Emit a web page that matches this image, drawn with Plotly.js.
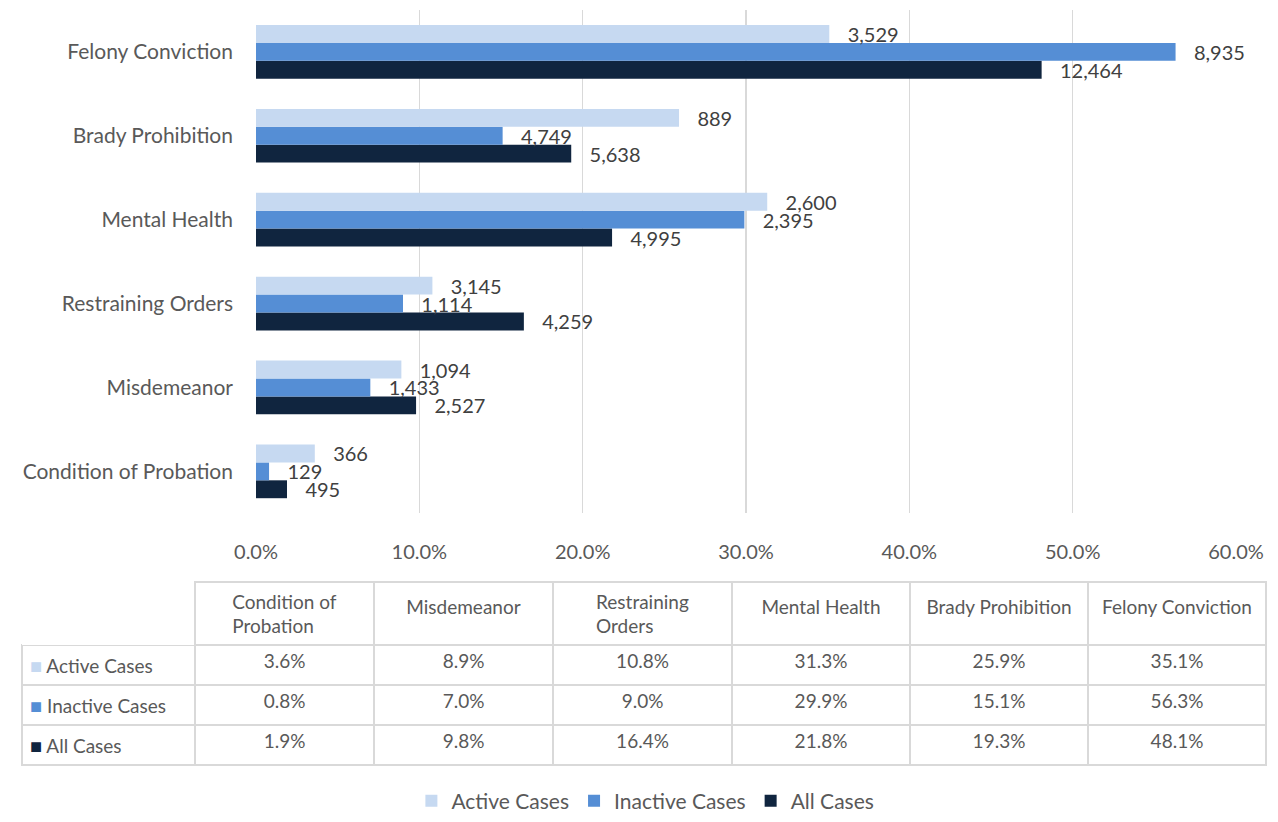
<!DOCTYPE html>
<html>
<head>
<meta charset="utf-8">
<script src="https://cdn.plot.ly/plotly-3.0.1.min.js"></script>
<style>html,body{margin:0;padding:0;background:#fff;}#chart{width:1278px;height:822px;}</style>
</head>
<body>
<div id="chart"></div>
<script>
const categories = ['Condition of Probation','Misdemeanor','Restraining Orders','Mental Health','Brady Prohibition','Felony Conviction'];
const tableHeaders = ['Condition of<br>Probation','<br>Misdemeanor','Restraining<br>Orders','<br>Mental Health','<br>Brady Prohibition','<br>Felony Conviction'];
const seriesNames = ['Active Cases','Inactive Cases','All Cases'];
const activePct = [3.6, 8.9, 10.8, 31.3, 25.9, 35.1];
const inactivePct = [0.8, 7.0, 9.0, 29.9, 15.1, 56.3];
const allPct = [1.9, 9.8, 16.4, 21.8, 19.3, 48.1];
const activeCounts = [366, 1094, 3145, 2600, 889, 3529];
const inactiveCounts = [129, 1433, 1114, 2395, 4749, 8935];
const allCounts = [495, 2527, 4259, 4995, 5638, 12464];
const xTicks = [0, 10, 20, 30, 40, 50, 60];

const colors = ['#C6D9F1', '#558ED5', '#10253F'];
const FONT = 'Lato, "Open Sans", sans-serif';
const TXT = '#595959';
const fmt = n => n.toLocaleString('en-US');

function barTrace(name, pct, counts, color) {
  return {
    type: 'bar', orientation: 'h', name: name,
    y: categories, x: pct,
    text: counts.map(fmt),
    texttemplate: '\u00a0\u00a0\u00a0%{text}',
    textposition: 'outside', cliponaxis: false, constraintext: 'none',
    textfont: {family: FONT, size: 20, color: '#404040'},
    marker: {color: color, line: {width: 0}},
    hoverinfo: 'skip', xaxis: 'x', yaxis: 'y'
  };
}

const traces = [
  barTrace(seriesNames[2], allPct, allCounts, colors[2]),
  barTrace(seriesNames[1], inactivePct, inactiveCounts, colors[1]),
  barTrace(seriesNames[0], activePct, activeCounts, colors[0])
];

const rowLabels = seriesNames.map((s, i) =>
  `<a href="http://a"style="color:${colors[i]};font-size:20px">■</a>\u00a0${s.replace(/ /g, '\u00a0')}`);
const tableCols = [rowLabels].concat(categories.map((c, i) =>
  [activePct[i], inactivePct[i], allPct[i]].map(v => v.toFixed(1) + '%')));

traces.push({
  type: 'table',
  domain: {x: [22/1278, 1266/1278], y: [1 - 795/822, 1 - 588/822]},
  columnwidth: [173, 179, 179, 179, 178, 178, 178],
  header: {
    values: [''].concat(tableHeaders),
    align: 'center', height: 61,
    line: {color: ['rgba(0,0,0,0)'].concat(categories.map(() => '#d9d9d9')), width: 2},
    fill: {color: 'white'},
    font: {family: FONT, size: 19, color: TXT}
  },
  cells: {
    values: tableCols,
    align: ['left', 'center', 'center', 'center', 'center', 'center', 'center'],
    height: 36,
    line: {color: '#d9d9d9', width: 2},
    fill: {color: 'white'},
    font: {family: FONT, size: 19, color: TXT}
  }
});

const layout = {
  width: 1278, height: 822,
  margin: {l: 0, r: 0, t: 0, b: 0},
  paper_bgcolor: 'white', plot_bgcolor: 'white',
  font: {family: FONT, size: 20, color: TXT},
  barmode: 'group', bargap: 0.36, bargroupgap: 0,
  showlegend: true,
  legend: {orientation: 'h', traceorder: 'reversed', x: 0.505, xanchor: 'center', y: 1 - 810/822, yanchor: 'middle',
           font: {family: FONT, size: 21, color: TXT}, itemclick: false},
  xaxis: {
    domain: [256/1278, 1236/1278], range: [0, 60], tickvals: xTicks,
    ticktext: xTicks.map(v => v.toFixed(1) + '%'),
    showgrid: true, gridcolor: '#d9d9d9', gridwidth: 1.5,
    zeroline: false, showline: false, ticks: '', ticklabelstandoff: 25,
    tickfont: {family: FONT, size: 20, color: TXT}, fixedrange: true
  },
  yaxis: {
    domain: [1 - 519/822, 1 - 10/822], type: 'category', categoryorder: 'array', categoryarray: categories,
    range: [-0.5, 5.5], showgrid: false, zeroline: false, showline: false, ticks: '', ticklabelstandoff: 22,
    tickfont: {family: FONT, size: 21, color: TXT}, fixedrange: true
  }
};

Plotly.newPlot('chart', traces, layout, {displayModeBar: false, staticPlot: true});
</script>
</body>
</html>
